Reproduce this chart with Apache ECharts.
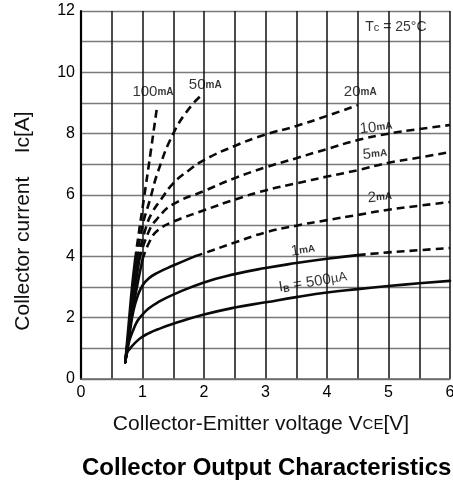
<!DOCTYPE html>
<html><head><meta charset="utf-8">
<script src="https://cdn.jsdelivr.net/npm/echarts@6/dist/echarts.min.js"></script>
<style>html,body{margin:0;padding:0;background:#fff}#c{width:453px;height:485px}</style>
</head><body><div id="c"></div>
<script>
// ---- data ----
const xTickLabels = [0, 1, 2, 3, 4, 5, 6];
const yTickLabels = [0, 2, 4, 6, 8, 10, 12];
const curveNames = ['500µA', '1mA', '2mA', '5mA', '10mA', '20mA', '50mA', '100mA'];
const ib500uA = [[0.72,0.55],[0.75,0.85],[0.8,1.0],[0.9,1.22],[1.0,1.38],[1.1,1.49],[1.25,1.62],[1.5,1.8],[2.0,2.1],[2.5,2.33],[3.0,2.5],[3.5,2.67],[4.0,2.82],[4.5,2.93],[5.0,3.03],[5.5,3.12],[6.0,3.2]];
const ib1mA = [[0.72,0.55],[0.78,1.2],[0.85,1.6],[0.92,1.9],[1.0,2.1],[1.1,2.3],[1.25,2.5],[1.5,2.75],[2.0,3.15],[2.5,3.42],[3.0,3.62],[3.5,3.78],[4.0,3.92],[4.5,4.04],[5.0,4.13],[5.5,4.2],[6.0,4.27]];
const ib2mA = [[0.72,0.55],[0.8,1.6],[0.85,2.2],[0.92,2.7],[1.0,3.05],[1.1,3.28],[1.25,3.47],[1.5,3.7],[1.85,4.0],[2.0,4.1],[2.5,4.45],[3.0,4.78],[3.5,5.0],[4.0,5.18],[4.5,5.35],[5.0,5.52],[5.5,5.65],[6.0,5.77]];
const ib5mA = [[0.72,0.55],[0.8,1.75],[0.9,2.9],[1.0,3.9],[1.12,4.5],[1.25,4.85],[1.5,5.13],[2.0,5.5],[2.5,5.85],[3.0,6.15],[3.5,6.38],[4.0,6.6],[4.5,6.81],[5.0,7.05],[5.5,7.22],[6.0,7.4]];
const ib10mA = [[0.72,0.55],[0.8,1.85],[0.88,3.0],[0.95,3.9],[1.1,4.8],[1.25,5.25],[1.5,5.7],[2.0,6.13],[2.5,6.55],[3.0,6.9],[3.5,7.2],[4.0,7.5],[4.5,7.79],[5.0,8.0],[5.5,8.15],[6.0,8.28]];
const ib20mA = [[0.72,0.55],[0.8,1.9],[0.86,3.0],[0.92,3.9],[1.05,4.9],[1.15,5.4],[1.3,5.85],[1.5,6.38],[1.75,6.8],[2.0,7.14],[2.5,7.6],[3.0,7.97],[3.5,8.25],[4.0,8.58],[4.5,8.93]];
const ib50mA = [[0.72,0.55],[0.8,1.95],[0.85,3.0],[0.9,3.9],[1.0,5.0],[1.12,5.84],[1.26,6.81],[1.5,8.0],[1.75,8.8],[1.96,9.26]];
const ib100mA = [[0.72,0.55],[0.78,1.9],[0.83,3.0],[0.88,3.9],[0.95,4.9],[1.02,5.84],[1.13,7.36],[1.24,8.93]];
// x value at which each curve changes from solid to dashed (null = solid throughout)
const dashStart = [null, 4.5, 1.85, 1.0, 0.95, 0.92, 0.9, 0.88];
const curveData = [ib500uA, ib1mA, ib2mA, ib5mA, ib10mA, ib20mA, ib50mA, ib100mA];

// ---- chart ----
const FONT = '"Liberation Sans", Arial, Helvetica, sans-serif';
const series = [];
curveData.forEach((pts, i) => {
  const ds = dashStart[i];
  const solid = ds == null ? pts : pts.filter(p => p[0] <= ds);
  const dashed = ds == null ? [] : pts.filter(p => p[0] >= ds);
  const base = {type: 'line', symbol: 'none', smooth: 0.5, silent: true, z: 3};
  series.push(Object.assign({}, base, {name: curveNames[i], data: solid,
    lineStyle: {color: '#0a0a0a', width: 2.6, type: 'solid', cap: 'round', join: 'round'}}));
  if (dashed.length) series.push(Object.assign({}, base, {name: curveNames[i] + ' (dashed)', data: dashed,
    lineStyle: {color: '#0a0a0a', width: 2.6, type: [8, 5]}}));
});

const rich = {
  n: {fontSize: 15, fontFamily: FONT, color: '#000'},
  u: {fontSize: 10, fontFamily: FONT, fontWeight: 'bold', color: '#000'},
  sub: {fontSize: 9, fontFamily: FONT, fontWeight: 'bold', color: '#000', padding: [6, 0, 0, 0]},
  mu: {fontSize: 13, fontFamily: FONT, color: '#000'},
  T: {fontSize: 14, fontFamily: FONT, color: '#000'},
  c: {fontSize: 11, fontFamily: FONT, color: '#000', padding: [3, 0, 0, 0]}
};
const annot = (x, y, text, rot) => ({value: [x, y], label: {formatter: text, rotate: rot || 0}});
series.push({
  type: 'scatter', name: 'labels', symbolSize: 0, silent: true, z: 5,
  label: {show: true, position: 'inside', rich: rich, color: '#000'},
  data: [
    annot(1.17, 9.36, '{n|100}{u|mA}'),
    annot(2.02, 9.59, '{n|50}{u|mA}'),
    annot(4.54, 9.36, '{n|20}{u|mA}'),
    annot(4.8, 8.2, '{n|10}{u|mA}', 6),
    annot(4.78, 7.34, '{n|5}{u|mA}', 4),
    annot(4.86, 5.93, '{n|2}{u|mA}', 4),
    annot(3.61, 4.2, '{n|1}{u|mA}', 7),
    annot(3.77, 3.16, '{n|I}{sub|B}{n| = 500}{mu|µA}', 9),
    annot(5.12, 11.48, '{T|T}{c|c}{T| = 25°C}')
  ]
});

const chart = echarts.init(document.getElementById('c'), null, {renderer: 'canvas'});
chart.setOption({
  animation: false,
  backgroundColor: '#fff',
  title: {
    text: 'Collector Output Characteristics',
    left: 82, top: 456, padding: 0,
    textStyle: {fontFamily: FONT, fontSize: 24, fontWeight: 'bold', color: '#000'}
  },
  grid: {left: 81, right: 3, top: 11, bottom: 106, containLabel: false, outerBoundsMode: 'none'},
  xAxis: {
    type: 'value', min: 0, max: 6, interval: 0.5,
    name: 'Collector-Emitter voltage V{s|CE}[V]',
    nameLocation: 'middle', nameGap: 35,
    nameTextStyle: {fontFamily: FONT, fontSize: 21, color: '#111', padding: [0, 9, 0, 0],
      rich: {s: {fontFamily: FONT, fontSize: 15, color: '#111'}}},
    axisLine: {show: true, lineStyle: {color: '#6a6a6a', width: 1.5}},
    axisTick: {show: false},
    axisLabel: {fontFamily: FONT, fontSize: 16, color: '#000', margin: 6,
      formatter: v => xTickLabels.includes(v) ? String(v) : ''},
    splitLine: {show: true, lineStyle: {color: '#111', width: 1.5}}
  },
  yAxis: {
    type: 'value', min: 0, max: 12, interval: 1,
    name: 'Collector current    Ic[A]',
    nameLocation: 'middle', nameGap: 47,
    nameTextStyle: {fontFamily: FONT, fontSize: 21, color: '#111', padding: [0, 52, 0, 0]},
    axisLine: {show: true, lineStyle: {color: '#000', width: 2.2}},
    axisTick: {show: false},
    axisLabel: {fontFamily: FONT, fontSize: 16, color: '#000', margin: 6,
      formatter: v => yTickLabels.includes(v) ? String(v) : ''},
    splitLine: {show: true, lineStyle: {color: '#7a7a7a', width: 1.3}}
  },
  series: series
});
</script></body></html>
